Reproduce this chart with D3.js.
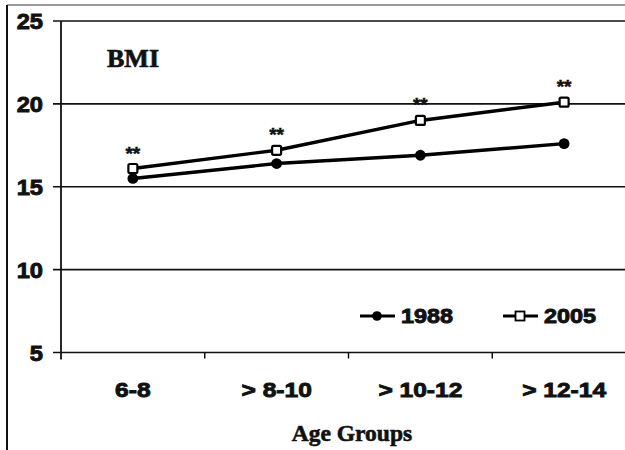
<!DOCTYPE html>
<html>
<head>
<meta charset="utf-8">
<script src="https://cdn.jsdelivr.net/npm/d3@7"></script>
<style>
  html, body { margin: 0; padding: 0; background: #fff; }
  svg { display: block; }
</style>
</head>
<body>
<svg id="chart" width="625" height="450"></svg>
<script>
const categories = ["6-8", "> 8-10", "> 10-12", "> 12-14"];
const series1988 = [15.5, 16.4, 16.9, 17.6];
const series2005 = [16.1, 17.2, 19.0, 20.1];
const significance = ["**", "**", "**", "**"];
const yTicks = [5, 10, 15, 20, 25];
const seriesNames = ["1988", "2005"];

const W = 625, H = 450;
const svg = d3.select("#chart");
const SX = 1.17; // horizontal stretch of sans labels
const SANS = "Liberation Sans, Arial, sans-serif";
const SERIF = "Liberation Serif, Times New Roman, serif";

function heavy(sel, w) {
  return sel.attr("stroke", "#111").attr("stroke-width", w).attr("paint-order", "stroke");
}

svg.append("rect").attr("width", W).attr("height", H).attr("fill", "#fff");

// frame
svg.append("line").attr("x1", 7).attr("x2", W).attr("y1", 5).attr("y2", 5)
  .attr("stroke", "#777").attr("stroke-width", 1.5);
svg.append("line").attr("x1", 7).attr("x2", 7).attr("y1", 5).attr("y2", H)
  .attr("stroke", "#111").attr("stroke-width", 2);

const x = d3.scaleBand().domain(categories).range([61, 636]).padding(0);
const y = d3.scaleLinear().domain([5, 25]).range([352.5, 21]);

// gridlines
svg.append("g").selectAll("line").data(yTicks).join("line")
  .attr("x1", 53).attr("x2", W)
  .attr("y1", d => y(d)).attr("y2", d => y(d))
  .attr("stroke", "#111").attr("stroke-width", 1.6);

// y axis line
svg.append("line").attr("x1", 61).attr("x2", 61).attr("y1", y(25)).attr("y2", y(5) + 7)
  .attr("stroke", "#111").attr("stroke-width", 1.8);

// x boundary ticks
svg.append("g").selectAll("line").data(categories.slice(1)).join("line")
  .attr("x1", d => x(d)).attr("x2", d => x(d))
  .attr("y1", y(5)).attr("y2", y(5) + 6)
  .attr("stroke", "#111").attr("stroke-width", 1.5);

// y axis labels
const YSX = 1.1;
const yAxis = svg.append("g").attr("transform", "translate(61,0)")
  .call(d3.axisLeft(y).tickValues(yTicks).tickSize(0).tickPadding(0));
yAxis.select(".domain").remove();
heavy(yAxis.selectAll("text")
  .attr("x", -18 / YSX).attr("dy", "0.37em")
  .attr("transform", `scale(${YSX},1)`)
  .attr("font-family", SANS)
  .attr("font-weight", "bold").attr("font-size", 21.5).attr("fill", "#111"), 0.9);

// x axis labels
const xAxis = svg.append("g").attr("transform", `translate(0,${y(5)})`)
  .call(d3.axisBottom(x).tickSize(0).tickPadding(0));
xAxis.select(".domain").remove();
heavy(xAxis.selectAll("text")
  .attr("y", 45).attr("dy", 0)
  .attr("transform", `scale(${SX},1)`)
  .attr("font-family", SANS)
  .attr("font-weight", "bold").attr("font-size", 21).attr("fill", "#111"), 0.9);

const cx = d => x(d) + x.bandwidth() / 2;

const line = d3.line().x(d => cx(d.c)).y(d => y(d.v));
const d1988 = categories.map((c, i) => ({ c, v: series1988[i] }));
const d2005 = categories.map((c, i) => ({ c, v: series2005[i] }));

svg.append("path").datum(d1988).attr("d", line)
  .attr("fill", "none").attr("stroke", "#000").attr("stroke-width", 3.4);
svg.append("path").datum(d2005).attr("d", line)
  .attr("fill", "none").attr("stroke", "#000").attr("stroke-width", 3.4);

svg.append("g").selectAll("circle").data(d1988).join("circle")
  .attr("cx", d => cx(d.c)).attr("cy", d => y(d.v)).attr("r", 5.4).attr("fill", "#000");

const sq = 9;
svg.append("g").selectAll("rect").data(d2005).join("rect")
  .attr("x", d => cx(d.c) - sq / 2).attr("y", d => y(d.v) - sq / 2)
  .attr("width", sq).attr("height", sq).attr("rx", 1.5)
  .attr("fill", "#fff").attr("stroke", "#000").attr("stroke-width", 2.2);

// significance asterisks
heavy(svg.append("g").selectAll("text").data(d2005).join("text")
  .attr("x", d => cx(d.c)).attr("y", d => y(d.v) - 9)
  .attr("text-anchor", "middle")
  .attr("font-family", SANS)
  .attr("font-weight", "bold").attr("font-size", 19).attr("fill", "#111")
  .text((d, i) => significance[i]), 0.5);

// BMI title
heavy(svg.append("text").attr("x", 107).attr("y", 67)
  .attr("font-family", SERIF)
  .attr("font-weight", "bold").attr("font-size", 26).attr("fill", "#111")
  .text("BMI"), 0.7);

// x title
heavy(svg.append("text").attr("x", 352).attr("y", 441).attr("text-anchor", "middle")
  .attr("font-family", SERIF)
  .attr("font-weight", "bold").attr("font-size", 23.5).attr("fill", "#111")
  .text("Age Groups"), 0.6);

// legend
const legend = [
  { name: seriesNames[0], x0: 360, marker: "circle" },
  { name: seriesNames[1], x0: 503, marker: "square" }
];
const ly = 316;
legend.forEach(l => {
  const g = svg.append("g");
  g.append("line").attr("x1", l.x0).attr("x2", l.x0 + 35).attr("y1", ly).attr("y2", ly)
    .attr("stroke", "#000").attr("stroke-width", 3.2);
  if (l.marker === "circle") {
    g.append("circle").attr("cx", l.x0 + 17).attr("cy", ly).attr("r", 4.8).attr("fill", "#000");
  } else {
    g.append("rect").attr("x", l.x0 + 17 - 4.5).attr("y", ly - 4.5).attr("width", 9).attr("height", 9)
      .attr("fill", "#fff").attr("stroke", "#000").attr("stroke-width", 1.8);
  }
  heavy(g.append("text").attr("x", (l.x0 + 41) / SX).attr("y", ly + 7.5)
    .attr("transform", `scale(${SX},1)`)
    .attr("font-family", SANS)
    .attr("font-weight", "bold").attr("font-size", 20).attr("fill", "#111")
    .text(l.name), 0.9);
});
</script>
</body>
</html>
